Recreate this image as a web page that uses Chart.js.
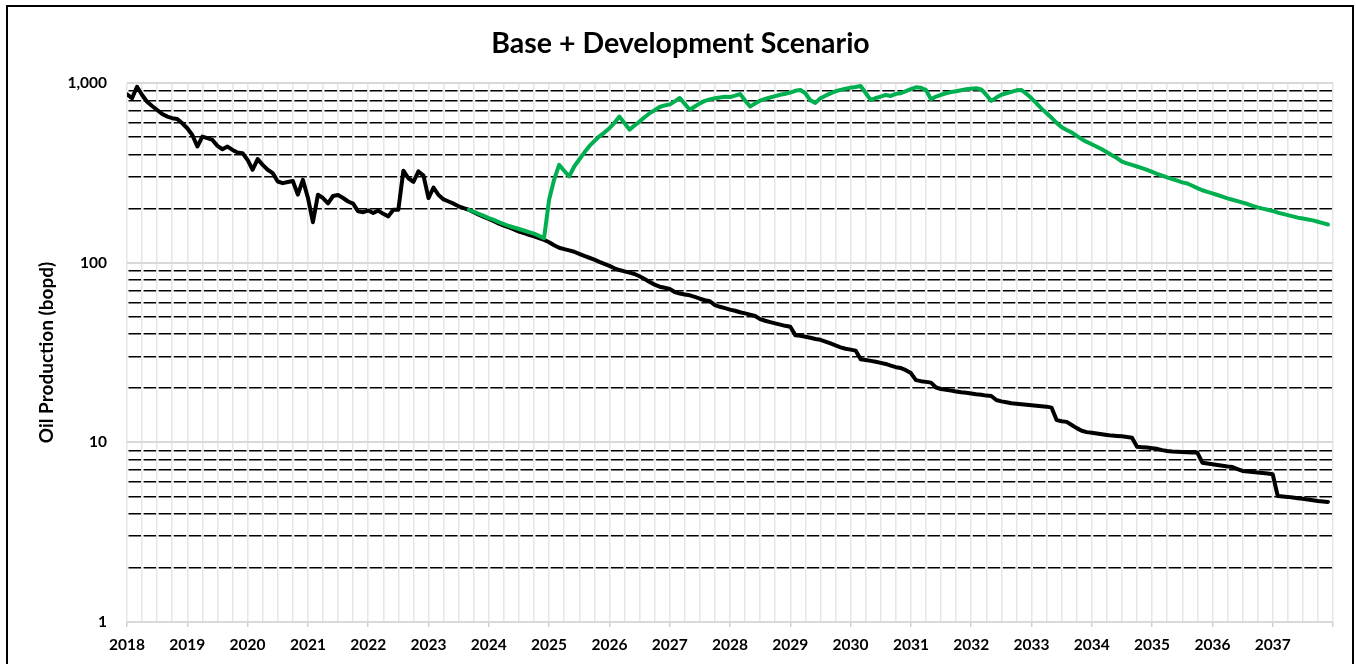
<!DOCTYPE html>
<html>
<head>
<meta charset="utf-8">
<title>Base + Development Scenario</title>
<script src="https://cdn.jsdelivr.net/npm/chart.js@4.4.1/dist/chart.umd.min.js"></script>
<style>
  html, body { margin: 0; padding: 0; background: #fff; }
  #wrap { position: relative; width: 1356px; height: 664px; overflow: hidden; }
  #frame { position: absolute; left: 6px; top: 5px; width: 1344px; height: 720px; border: 2px solid #000; pointer-events: none; }
  canvas { position: absolute; left: 0; top: 0; }
</style>
</head>
<body>
<div id="wrap">
  <canvas id="chart" width="1356" height="664"></canvas>
  <div id="frame"></div>
</div>
<script>
// monthly oil rate (bopd), Jan 2018 .. Dec 2037
const startYear = 2018
const monthCount = 240

const baseOil = [
  865, 822, 953, 858, 787, 745, 708, 673, 650, 637, 631, 597,
  560, 514, 443, 503, 493, 482, 447, 428, 443, 424, 410, 407,
  373, 329, 377, 350, 329, 315, 283, 277, 281, 285, 239, 289,
  230, 168, 239, 229, 214, 235, 238, 229, 219, 213, 193, 191,
  195, 189, 195, 187, 181, 197, 197, 325, 295, 282, 322, 305,
  229, 262, 238, 225, 219, 213, 206, 201, 197, 191, 185, 180,
  175, 170, 165, 161, 157, 153, 149, 146, 143, 140, 137, 134,
  130, 125, 121, 119, 117, 115, 112, 109, 106.5, 104, 101, 98.5,
  96, 93, 91, 89.5, 88, 86.5, 84, 81, 78, 75.5, 73.5, 72.5,
  71.4, 68.6, 67.3, 66.5, 65.8, 64.5, 63, 61.8, 61, 58, 56.8, 55.8,
  54.8, 54, 53, 52.2, 51.4, 50.5, 48.5, 47.5, 46.7, 45.9, 45.2, 44.5,
  44, 39.5, 39.2, 38.7, 38.2, 37.6, 37.2, 36.4, 35.5, 34.6, 33.8, 33.2,
  32.8, 32.4, 29, 28.7, 28.4, 28.1, 27.7, 27.3, 26.7, 26.2, 25.9, 25.2,
  24.3, 22.2, 21.9, 21.7, 21.5, 20.2, 19.8, 19.6, 19.4, 19.2, 19.0, 18.9,
  18.7, 18.5, 18.4, 18.2, 18.1, 17.2, 16.9, 16.7, 16.5, 16.4, 16.3, 16.2,
  16.1, 16.0, 15.9, 15.8, 15.6, 13.3, 13.1, 13.0, 12.5, 12.0, 11.6, 11.4,
  11.3, 11.2, 11.1, 11.0, 10.9, 10.85, 10.8, 10.7, 10.6, 9.46, 9.4, 9.35,
  9.27, 9.2, 9.05, 8.95, 8.9, 8.87, 8.84, 8.81, 8.79, 8.77, 7.7, 7.62,
  7.55, 7.47, 7.4, 7.33, 7.29, 7.1, 6.93, 6.89, 6.84, 6.8, 6.75, 6.7,
  6.64, 5.03, 5.0, 4.97, 4.93, 4.89, 4.85, 4.8, 4.76, 4.72, 4.69, 4.66
]

// development case starts Sep 2023
const devStart = 68
const devOil = [
  197, 192, 187, 182,
  177, 173, 168, 164, 160, 157, 154, 151, 148, 145, 141, 137,
  224, 290, 350, 325, 302, 343, 375, 410, 445, 475, 505, 530,
  560, 600, 650, 598, 550, 580, 610, 645, 679, 705, 735, 750,
  760, 790, 825, 765, 710, 740, 770, 795, 811, 822, 830, 839,
  835, 850, 868, 800, 739, 770, 798, 815, 830, 845, 860, 872,
  885, 905, 914, 877, 800, 775, 822, 850, 875, 900, 915, 930,
  940, 950, 962, 880, 805, 825, 840, 858, 847, 870, 877, 900,
  925, 946, 940, 914, 811, 840, 860, 877, 890, 900, 912, 922,
  930, 935, 922, 860, 795, 830, 860, 877, 893, 910, 914, 870,
  822, 770, 720, 679, 640, 600, 568, 548, 530, 508, 487, 470,
  456, 442, 428, 412, 396, 382, 365, 357, 350, 343, 336, 328,
  320, 312, 305, 298, 292, 286, 280, 276, 268, 260, 253, 248,
  243, 238, 233, 228, 224, 220, 216, 212, 207, 203, 200, 197,
  194, 190, 187, 184, 181, 178, 176, 174, 172, 169, 166, 163
]

// log axis gridlines
const yTicks = [
  1, 2, 3, 4, 5, 6, 7, 8, 9,
  10, 20, 30, 40, 50, 60, 70, 80, 90,
  100, 200, 300, 400, 500, 600, 700, 800, 900,
  1000
]

const toPoints = (vals, offset) => vals.map((v, i) => ({ x: i + offset, y: v }))

const isDecade = (v) => {
  let l = Math.log10(v)
  return Math.abs(l - Math.round(l)) < 1e-9
}

Chart.defaults.font.family = "Lato"

new Chart(document.getElementById("chart"), {
  type: "line",
  data: {
    datasets: [
      {
        label: "Development",
        data: toPoints(devOil, devStart),
        borderColor: "#00b050",
        backgroundColor: "#00b050"
      },
      {
        label: "Base",
        data: toPoints(baseOil, 0),
        borderColor: "#000000",
        backgroundColor: "#000000"
      }
    ]
  },
  options: {
    responsive: false,
    animation: false,
    events: [],
    layout: {
      padding: { left: 28, right: 23, top: 0, bottom: 0 }
    },
    elements: {
      point: { radius: 0 },
      line: { tension: 0, borderWidth: 4, borderJoinStyle: "round", borderCapStyle: "round" }
    },
    plugins: {
      legend: { display: false },
      tooltip: { enabled: false },
      title: {
        display: true,
        text: "Base + Development Scenario",
        color: "#000",
        font: { size: 28.5, weight: "bold" },
        padding: { top: 26.9, bottom: 21.9 }
      }
    },
    scales: {
      x: {
        type: "linear",
        min: 0,
        max: monthCount,
        afterFit: (scale) => { scale.height = 42 },
        grid: {
          color: "#e6e6e6",
          lineWidth: 1.5,
          tickLength: 5,
          tickColor: (ctx) => (ctx.tick && ctx.tick.value % 12 === 0) ? "#d0d0d0" : "rgba(0,0,0,0)"
        },
        border: { color: "#d9d9d9", width: 2 },
        ticks: {
          stepSize: 3,
          autoSkip: false,
          maxRotation: 0,
          padding: 9,
          color: "#000",
          font: { size: 15.5, weight: "bold" },
          callback: (v) => (v % 12 === 0 && v < monthCount) ? String(startYear + v / 12) : ""
        }
      },
      y: {
        type: "logarithmic",
        min: 1,
        max: 1000,
        afterFit: (scale) => { scale.width = 99 },
        afterBuildTicks: (scale) => { scale.ticks = yTicks.map(v => ({ value: v })) },
        grid: {
          drawTicks: false,
          color: (ctx) => (ctx.tick && isDecade(ctx.tick.value)) ? "#d9d9d9" : "#000",
          lineWidth: (ctx) => (ctx.tick && isDecade(ctx.tick.value)) ? 2 : 1.6
        },
        border: {
          display: false,
          dash: (ctx) => (ctx.tick && isDecade(ctx.tick.value)) ? [] : [12.5, 2.575],
          dashOffset: -1.5
        },
        ticks: {
          autoSkip: false,
          padding: 20,
          color: "#000",
          font: { size: 15.5, weight: "bold" },
          callback: (v) => isDecade(v) ? Number(v).toLocaleString("en-US") : ""
        },
        title: {
          display: true,
          text: "Oil Production (bopd)",
          color: "#000",
          font: { size: 19, weight: "bold" },
          padding: { top: 7, bottom: 0 }
        }
      }
    }
  }
})
</script>
</body>
</html>
